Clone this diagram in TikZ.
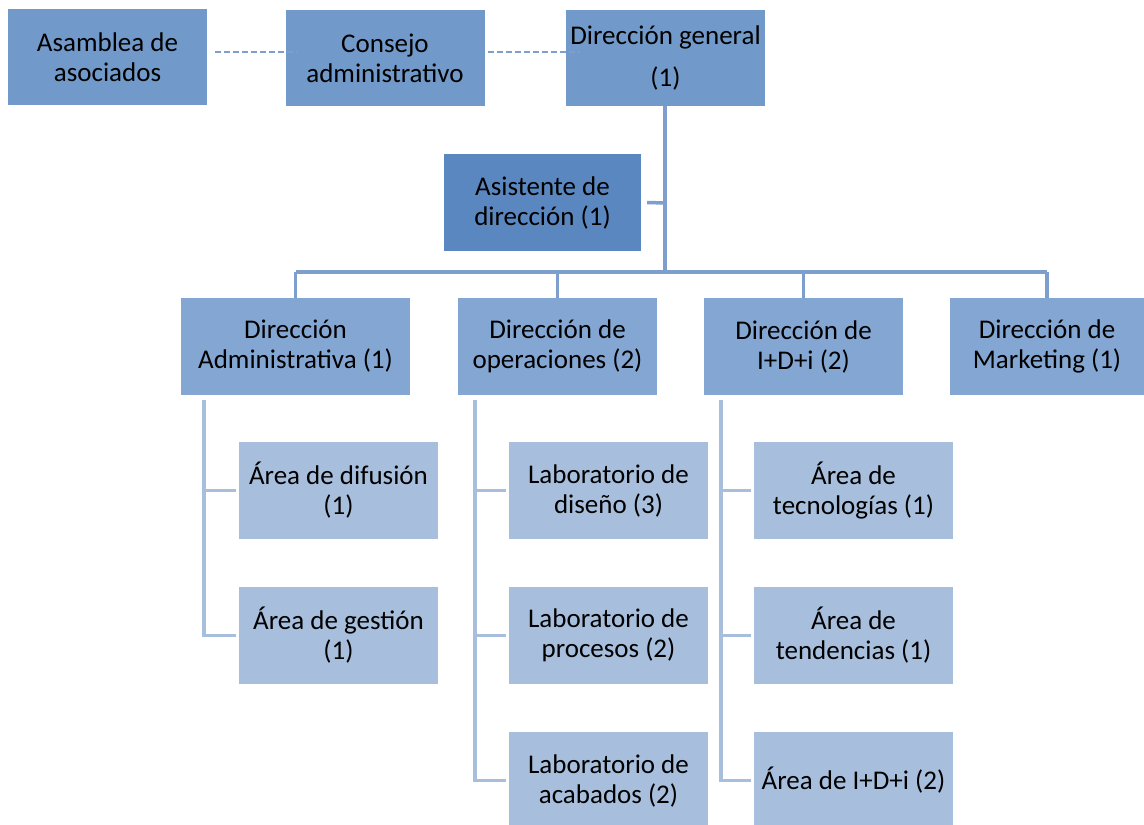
\documentclass[tikz,border=0pt]{standalone}
\usepackage{fontspec}
\setmainfont{Carlito}
\definecolor{cA}{HTML}{7199C9}
\definecolor{cB}{HTML}{5B87C0}
\definecolor{cC}{HTML}{84A6D2}
\definecolor{cD}{HTML}{A7BFDD}
\definecolor{lnA}{HTML}{7E9FCE}
\definecolor{lnB}{HTML}{A7BFDD}
\begin{document}
\begin{tikzpicture}[x=1pt,y=-1pt,
  box/.style={rectangle, inner sep=0pt, minimum width=199, minimum height=96, align=center,
    font=\fontsize{27}{30}\selectfont, text=black},
  top/.style={box, fill=cA},
  asis/.style={box, fill=cB, minimum width=197, minimum height=97},
  lvtwo/.style={box, fill=cC, minimum height=97},
  lvthree/.style={box, fill=cD, minimum height=97},
  lineA/.style={draw=lnA, line width=3.5pt},
  lineB/.style={draw=lnB, line width=3.5pt},
  dashline/.style={draw=lnA, line width=2.6pt, dash pattern=on 6pt off 3pt}]
\useasboundingbox (0,0) rectangle (1144,825);
% top row
\node[top] (asam) at (107.5,57) {Asamblea de\\asociados};
\node[top] (cons) at (385,58) {Consejo\\administrativo};
\node[top] (dg) at (665.5,58) {Dirección general\\[12pt](1)};
\draw[dashline] ([xshift=8,yshift=5]asam.east) -- ([xshift=12,yshift=6]cons.west);
\draw[dashline] ([xshift=3,yshift=6]cons.east) -- ([xshift=14,yshift=6]dg.west);
% assistant
\node[asis] (asis) at (542.5,202.5) {Asistente de\\dirección (1)};
% level 2
\node[lvtwo, minimum width=229] (dadm) at (295.5,346.5) {Dirección\\Administrativa (1)};
\node[lvtwo] (dop) at (557.5,346.5) {Dirección de\\operaciones (2)};
\node[lvtwo] (did) at (803.5,346.5) {Dirección de\\I+D+i (2)};
\node[lvtwo, minimum width=194] (dmk) at (1047,346.5) {Dirección de\\Marketing (1)};
% tree lines level 1
\coordinate (bar) at (665,272);
\coordinate (asisj) at (665,203);
\draw[lineA] (dg.south -| bar) -- (bar);
\draw[lineA] ([xshift=6]asis.east) -- (asisj);
\draw[lineA] (dadm.north |- bar) -- (dmk.north |- bar);
\draw[lineA] (dadm.north |- bar) -- (dadm.north);
\draw[lineA] (dop.north |- bar) -- (dop.north);
\draw[lineA] (did.north |- bar) -- (did.north);
\draw[lineA] (dmk.north |- bar) -- (dmk.north);
% level 3
\node[lvthree] (a1) at (338.5,490.5) {Área de difusión\\(1)};
\node[lvthree] (a2) at (338.5,635.5) {Área de gestión\\(1)};
\node[lvthree] (o1) at (608.5,490.5) {Laboratorio de\\diseño (3)};
\node[lvthree] (o2) at (608.5,635.5) {Laboratorio de\\procesos (2)};
\node[lvthree] (o3) at (608.5,780.5) {Laboratorio de\\acabados (2)};
\node[lvthree] (i1) at (853.5,490.5) {Área de\\tecnologías (1)};
\node[lvthree] (i2) at (853.5,635.5) {Área de\\tendencias (1)};
\node[lvthree] (i3) at (853.5,780.5) {Área de I+D+i (2)};
% level 3 lines
\coordinate (va) at (204,400);
\coordinate (vo) at (475,400);
\coordinate (vi) at (721,400);
\draw[lineB] (va) -- (va |- a2) -- ([xshift=-3]a2.west);
\draw[lineB] (va |- a1) -- ([xshift=-3]a1.west);
\draw[lineB] (vo) -- (vo |- o3) -- ([xshift=-3]o3.west);
\draw[lineB] (vo |- o1) -- ([xshift=-3]o1.west);
\draw[lineB] (vo |- o2) -- ([xshift=-3]o2.west);
\draw[lineB] (vi) -- (vi |- i3) -- ([xshift=-3]i3.west);
\draw[lineB] (vi |- i1) -- ([xshift=-3]i1.west);
\draw[lineB] (vi |- i2) -- ([xshift=-3]i2.west);
\end{tikzpicture}
\end{document}
